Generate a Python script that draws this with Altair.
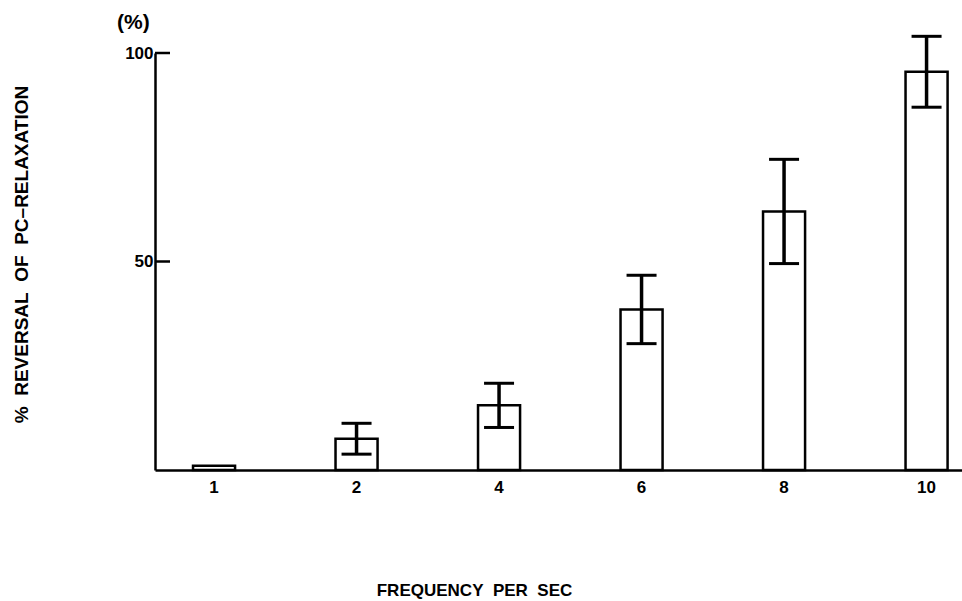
import altair as alt
import pandas as pd

# Data
freq = ["1", "2", "4", "6", "8", "10"]
mean = [1.0, 7.5, 15.5, 38.5, 62.0, 95.5]
sem = [0.0, 3.7, 5.3, 8.2, 12.5, 8.5]
y_ticks = [50, 100]

df = pd.DataFrame({"freq": freq, "mean": mean, "sem": sem})
df["lo"] = df["mean"] - df["sem"]
df["hi"] = df["mean"] + df["sem"]
ticks_df = pd.DataFrame({"v": y_ticks})

FONT = "Liberation Sans"
SP = "\u00a0\u00a0"
X_TITLE = f"FREQUENCY{SP}PER{SP}SEC"
Y_TITLE = f"%{SP}REVERSAL{SP}OF{SP}PC–RELAXATION"

xscale = alt.Scale(domain=freq, paddingInner=0.705, paddingOuter=0.184, align=0.725)
yscale = alt.Scale(domain=[0, 100], nice=False, zero=True)

x_axis = alt.Axis(
    title=X_TITLE, labelAngle=0, ticks=False, domain=True,
    domainWidth=2.5, domainColor="black", labelFont=FONT, labelFontSize=17,
    labelFontWeight="bold", labelColor="black", labelPadding=9,
    titleX=319, titleY=120, titleAlign="center", titleBaseline="middle",
    titleFont=FONT, titleFontSize=17, titleFontWeight="bold", titleColor="black",
    grid=False,
)
y_axis = alt.Axis(
    title=Y_TITLE, values=y_ticks, ticks=False,
    domain=True, domainWidth=2.5, domainColor="black", labelFont=FONT,
    labelFontSize=17, labelFontWeight="bold", labelColor="black", labelPadding=2,
    titleAngle=270, titleX=-134, titleY=201, titleAlign="center",
    titleBaseline="middle", titleFont=FONT, titleFontSize=19,
    titleFontWeight="bold", titleColor="black", grid=False,
)

X = lambda: alt.X("freq:N", scale=xscale, sort=freq, axis=x_axis, title=X_TITLE)
Y = lambda f: alt.Y(f, scale=yscale, axis=y_axis, title=Y_TITLE)

base = alt.Chart(df)

bars = base.mark_bar(fill="white", stroke="black", strokeWidth=2.5).encode(
    x=X(), y=Y("mean:Q"),
)

err = base.transform_filter("datum.sem > 0")
err_rule = err.mark_rule(color="black", strokeWidth=3.5).encode(
    x=X(), y=Y("lo:Q"), y2="hi:Q",
)
cap_hi = err.mark_tick(color="black", thickness=3, size=30, opacity=1).encode(
    x=X(), y=Y("hi:Q"),
)
cap_lo = err.mark_tick(color="black", thickness=3, size=30, opacity=1).encode(
    x=X(), y=Y("lo:Q"),
)

yticks = alt.Chart(ticks_df).mark_rule(color="black", strokeWidth=2.5).encode(
    y=Y("v:Q"),
    x=alt.value(0),
    x2=alt.value(15),
)

chart = alt.layer(bars, err_rule, cap_hi, cap_lo, yticks).properties(
    width=807,
    height=417,
    background="white",
    autosize=alt.AutoSizeParams(type="none"),
    padding={"left": 155, "top": 53, "right": 0, "bottom": 131},
    title=alt.TitleParams(
        "(%)", anchor="start", frame="group", dx=-38, offset=2,
        font=FONT, fontSize=21, fontWeight="bold", color="black",
    ),
).configure_view(strokeWidth=0, stroke="transparent").configure_axis(grid=False)

chart.save("out.html", embed_options={"renderer": "svg", "actions": False})
